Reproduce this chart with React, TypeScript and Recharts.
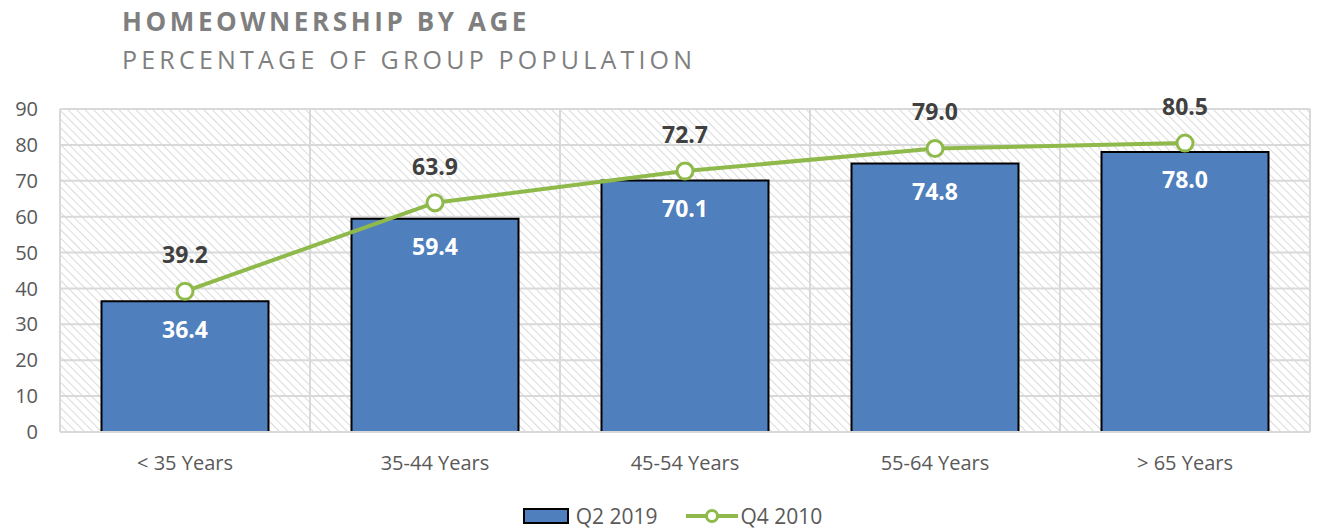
import React from "react";
import {
  Bar,
  CartesianGrid,
  ComposedChart,
  LabelList,
  Legend,
  Line,
  XAxis,
  YAxis,
} from "recharts";

const categories = ["< 35 Years", "35-44 Years", "45-54 Years", "55-64 Years", "> 65 Years"];
const q2_2019 = [36.4, 59.4, 70.1, 74.8, 78.0];
const q4_2010 = [39.2, 63.9, 72.7, 79.0, 80.5];
const yTicks = [0, 10, 20, 30, 40, 50, 60, 70, 80, 90];

const data = categories.map((name, i) => ({
  name,
  q2: q2_2019[i],
  q4: q4_2010[i],
}));

const FONT = "'Open Sans', sans-serif";
const BLUE = "#4f7fbd";
const GREEN = "#8fba4b";

const LegendContent = () => (
  <div
    style={{
      display: "flex",
      justifyContent: "center",
      alignItems: "center",
      fontFamily: FONT,
      fontSize: 21,
      color: "#595959",
      paddingLeft: 26,
    }}
  >
    <span
      style={{
        display: "inline-block",
        width: 42,
        height: 12,
        background: BLUE,
        border: "2px solid #000",
        marginRight: 7,
      }}
    />
    <span style={{ marginRight: 28 }}>Q2 2019</span>
    <svg width={52} height={16} style={{ marginRight: 3 }}>
      <line x1={0} y1={8} x2={52} y2={8} stroke={GREEN} strokeWidth={4} />
      <circle cx={26} cy={8} r={5.5} fill="#fff" stroke={GREEN} strokeWidth={3} />
    </svg>
    <span>Q4 2010</span>
  </div>
);

export default function App() {
  return (
    <div
      style={{
        position: "absolute",
        left: 0,
        top: 0,
        width: 1319,
        height: 529,
        background: "#fff",
      }}
    >
      <div
        style={{
          position: "absolute",
          left: 122,
          top: 3,
          fontFamily: FONT,
          fontWeight: 700,
          fontSize: 26,
          letterSpacing: 3.6,
          color: "#7f7f7f",
          whiteSpace: "nowrap",
        }}
      >
        HOMEOWNERSHIP BY AGE
      </div>
      <div
        style={{
          position: "absolute",
          left: 122,
          top: 42,
          fontFamily: FONT,
          fontSize: 25,
          letterSpacing: 4.2,
          color: "#7f7f7f",
          whiteSpace: "nowrap",
        }}
      >
        PERCENTAGE OF GROUP POPULATION
      </div>
      <ComposedChart
        width={1319}
        height={529}
        data={data}
        margin={{ top: 109, right: 9, left: 0, bottom: 67 }}
        barCategoryGap="16.6%"
        style={{ position: "absolute", left: 0, top: 0 }}
      >
        <defs>
          <pattern
            id="hatch"
            width={6}
            height={6}
            patternUnits="userSpaceOnUse"
            patternTransform="rotate(-45)"
          >
            <rect width={6} height={6} fill="#ffffff" />
            <line x1={0} y1={0} x2={0} y2={6} stroke="#cfcfcf" strokeWidth={1.5} />
          </pattern>
        </defs>
        <CartesianGrid
          fill="url(#hatch)"
          fillOpacity={1}
          stroke="#d9d9d9"
          strokeWidth={2}
          verticalCoordinatesGenerator={({ offset }: any) =>
            categories
              .concat([""])
              .map((_, i) => offset.left + (i * offset.width) / categories.length)
          }
        />
        <XAxis
          dataKey="name"
          axisLine={{ stroke: "#d9d9d9", strokeWidth: 2 }}
          tickLine={false}
          tick={{ fill: "#595959", fontSize: 20, fontFamily: FONT }}
          dy={16}
        />
        <YAxis
          width={60}
          domain={[0, 90]}
          ticks={yTicks}
          interval={0}
          axisLine={false}
          tickLine={false}
          tick={{ fill: "#595959", fontSize: 20, fontFamily: FONT }}
          dx={-14}
        />
        <Legend
          verticalAlign="middle"
          wrapperStyle={{ top: 502, left: 0, width: 1319 }}
          content={<LegendContent />}
        />
        <Bar
          dataKey="q2"
          name="Q2 2019"
          fill={BLUE}
          stroke="#000"
          strokeWidth={2}
          isAnimationActive={false}
        >
          <LabelList
            dataKey="q2"
            position="insideTop"
            offset={20}
            fill="#fff"
            fontSize={23}
            fontWeight={700}
            fontFamily={FONT}
            formatter={(v: any) => Number(v).toFixed(1)}
          />
        </Bar>
        <Line
          dataKey="q4"
          name="Q4 2010"
          type="linear"
          stroke={GREEN}
          strokeWidth={4}
          dot={{ r: 8, fill: "#fff", stroke: GREEN, strokeWidth: 3 }}
          isAnimationActive={false}
        >
          <LabelList
            dataKey="q4"
            position="top"
            offset={28}
            fill="#404040"
            fontSize={23}
            fontWeight={700}
            fontFamily={FONT}
            formatter={(v: any) => Number(v).toFixed(1)}
          />
        </Line>
      </ComposedChart>
    </div>
  );
}
